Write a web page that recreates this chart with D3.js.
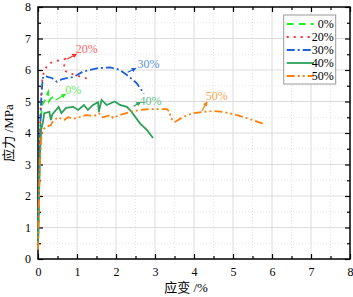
<!DOCTYPE html>
<html>
<head>
<meta charset="utf-8">
<script src="https://d3js.org/d3.v7.min.js"></script>
<style>
  body { margin: 0; background: #fff; }
  text { font-family: "Liberation Serif", "Times New Roman", "Noto Sans CJK SC", serif; }
</style>
</head>
<body>
<div id="chart"></div>
<script>
// strain (%) / stress (MPa)
var series = ["0%", "20%", "30%", "40%", "50%"];
var colors = ["#22ee22", "#ff2a2a", "#1f5fd8", "#2ca058", "#ff7f0e"];
var labelColors = ["#66ee66", "#ff6565", "#6090dc", "#64c088", "#ffa550"];
var dashes = ["7,5", "2,5", "8,3,2,3", null, "8,3,2,3,2,3"];

var s0 = [[0,0.3],[0.02,1.8],[0.04,3.2],[0.07,4.3],[0.1,4.9],[0.14,4.95],[0.18,5.05],[0.2,5.15],[0.26,5.3],[0.28,5.0],[0.33,5.1],[0.4,5.15]];
var s20 = [[0,0.3],[0.02,2],[0.04,3.6],[0.07,5.0],[0.1,5.6],[0.15,5.95],[0.22,6.1],[0.31,6.22],[0.45,6.28],[0.6,6.32],[0.7,6.35],[0.66,6.05],[0.72,5.95],[0.8,5.9],[0.95,5.85],[1.08,5.79],[1.2,5.75],[1.33,5.7]];
var s30 = [[0,0.3],[0.02,2],[0.05,3.8],[0.08,5.0],[0.12,5.74],[0.18,5.82],[0.26,5.77],[0.35,5.75],[0.48,5.63],[0.6,5.7],[0.74,5.74],[0.9,5.78],[1.0,5.84],[1.15,5.95],[1.33,6.0],[1.55,6.06],[1.85,6.08],[2.0,6.04],[2.1,6.0],[2.28,5.84],[2.4,5.72],[2.53,5.58],[2.62,5.42],[2.72,5.25]];
var s40 = [[0,0.3],[0.02,1.8],[0.05,3.3],[0.08,4.1],[0.12,4.3],[0.16,4.63],[0.22,4.65],[0.29,4.67],[0.33,4.41],[0.37,4.6],[0.53,4.83],[0.6,4.63],[0.72,4.8],[0.9,4.83],[1.03,4.73],[1.18,4.89],[1.28,4.73],[1.41,4.89],[1.54,4.98],[1.56,4.67],[1.63,5.05],[1.76,4.89],[1.97,5.0],[2.1,4.89],[2.28,4.83],[2.4,4.67],[2.5,4.5],[2.62,4.3],[2.79,4.1],[2.95,3.84]];
var s50 = [[0,0.3],[0.02,1.6],[0.05,3.0],[0.08,3.8],[0.12,4.1],[0.2,4.19],[0.33,4.25],[0.37,4.35],[0.51,4.5],[0.67,4.41],[0.77,4.5],[0.9,4.45],[1.05,4.5],[1.23,4.57],[1.44,4.54],[1.56,4.63],[1.66,4.5],[1.87,4.57],[1.92,4.48],[2.1,4.57],[2.36,4.67],[2.62,4.73],[2.87,4.76],[3.08,4.76],[3.3,4.76],[3.38,4.67],[3.4,4.48],[3.51,4.35],[3.72,4.51],[3.97,4.63],[4.23,4.67],[4.49,4.7],[4.74,4.67],[5.0,4.6],[5.26,4.51],[5.51,4.41],[5.77,4.29]];
var data = [s0, s20, s30, s40, s50];

// arrows: [from, to] in data units, and label position
var arrows = [[[0.45,5.05],[0.7,5.22]], [[0.75,6.35],[0.98,6.5]], [[2.3,5.93],[2.5,6.05]], [[2.45,4.85],[2.62,4.97]], [[4.2,4.7],[4.33,4.98]]];
var labelPos = [[0.7,5.25], [0.97,6.55], [2.55,6.05], [2.6,4.9], [4.3,5.05]];

var xTicks = [0,1,2,3,4,5,6,7,8];
var yTicks = [0,1,2,3,4,5,6,7,8];

var W = 353, H = 297;
var margin = {top: 7, right: 3, bottom: 38, left: 38};
var width = W - margin.left - margin.right;
var height = H - margin.top - margin.bottom;

var svg = d3.select("#chart").append("svg")
  .attr("width", W).attr("height", H);
var g = svg.append("g")
  .attr("transform", "translate(" + margin.left + "," + margin.top + ")");

var x = d3.scaleLinear().domain([0, 8]).range([0, width]);
var y = d3.scaleLinear().domain([0, 8]).range([height, 0]);

// grid
var minor = d3.range(0.5, 8, 1);
g.selectAll(".gx").data(xTicks.slice(1, -1)).enter().append("line")
  .attr("x1", d => x(d)).attr("x2", d => x(d)).attr("y1", 0).attr("y2", height)
  .attr("stroke", "#dcdcdc").attr("stroke-width", 1);
g.selectAll(".gy").data(yTicks.slice(1, -1)).enter().append("line")
  .attr("y1", d => y(d)).attr("y2", d => y(d)).attr("x1", 0).attr("x2", width)
  .attr("stroke", "#dcdcdc").attr("stroke-width", 1);
g.selectAll(".mx").data(minor).enter().append("line")
  .attr("x1", d => x(d)).attr("x2", d => x(d)).attr("y1", 0).attr("y2", height)
  .attr("stroke", "#e4e4e4").attr("stroke-width", 1).attr("stroke-dasharray", "1,2");
g.selectAll(".my").data(minor).enter().append("line")
  .attr("y1", d => y(d)).attr("y2", d => y(d)).attr("x1", 0).attr("x2", width)
  .attr("stroke", "#e4e4e4").attr("stroke-width", 1).attr("stroke-dasharray", "1,2");

// axes with inner ticks on all four sides
function styleAxis(sel) {
  sel.select(".domain").remove();
  sel.selectAll("line").attr("stroke", "#000").attr("stroke-width", 1.2);
  sel.selectAll("text").attr("font-size", 12).attr("fill", "#000");
}
g.append("g").attr("transform", "translate(0," + height + ")")
  .call(d3.axisBottom(x).tickValues(xTicks).tickSizeInner(-5).tickSizeOuter(0).tickPadding(8).tickFormat(d3.format("d")))
  .call(styleAxis);
g.append("g").attr("transform", "translate(0," + height + ")")
  .call(d3.axisBottom(x).tickValues(minor).tickSize(-3).tickFormat(""))
  .call(styleAxis);
g.append("g")
  .call(d3.axisLeft(y).tickValues(yTicks).tickSizeInner(-5).tickSizeOuter(0).tickPadding(7).tickFormat(d3.format("d")))
  .call(styleAxis);
g.append("g")
  .call(d3.axisLeft(y).tickValues(minor).tickSize(-3).tickFormat(""))
  .call(styleAxis);
g.append("g")
  .call(d3.axisTop(x).tickValues(xTicks).tickSize(-5).tickFormat(""))
  .call(styleAxis);
g.append("g")
  .call(d3.axisTop(x).tickValues(minor).tickSize(-3).tickFormat(""))
  .call(styleAxis);
g.append("g").attr("transform", "translate(" + width + ",0)")
  .call(d3.axisRight(y).tickValues(yTicks).tickSize(-5).tickFormat(""))
  .call(styleAxis);
g.append("g").attr("transform", "translate(" + width + ",0)")
  .call(d3.axisRight(y).tickValues(minor).tickSize(-3).tickFormat(""))
  .call(styleAxis);

g.append("rect").attr("width", width).attr("height", height)
  .attr("fill", "none").attr("stroke", "#000").attr("stroke-width", 1.5);

// curves
var line = d3.line().x(d => x(d[0])).y(d => y(d[1]));
data.forEach(function(s, i) {
  g.append("path").datum(s)
    .attr("d", line)
    .attr("fill", "none")
    .attr("stroke", colors[i])
    .attr("stroke-width", 1.8)
    .attr("stroke-dasharray", dashes[i]);
});

// arrows and labels
var defs = svg.append("defs");
colors.forEach(function(c, i) {
  defs.append("marker").attr("id", "ar" + i)
    .attr("viewBox", "0 0 10 10").attr("refX", 8).attr("refY", 5)
    .attr("markerWidth", 4).attr("markerHeight", 4).attr("orient", "auto")
    .append("path").attr("d", "M0,0L10,5L0,10z").attr("fill", c);
});
arrows.forEach(function(a, i) {
  g.append("line")
    .attr("x1", x(a[0][0])).attr("y1", y(a[0][1]))
    .attr("x2", x(a[1][0])).attr("y2", y(a[1][1]))
    .attr("stroke", colors[i]).attr("stroke-width", 1.2)
    .attr("marker-end", "url(#ar" + i + ")");
  g.append("text")
    .attr("x", x(labelPos[i][0])).attr("y", y(labelPos[i][1]))
    .attr("font-size", 12).attr("fill", labelColors[i])
    .text(series[i]);
});

// legend
var lg = g.append("g").attr("transform", "translate(" + (x(6.3)) + "," + 8 + ")");
lg.append("rect").attr("width", 52).attr("height", 69)
  .attr("fill", "#fff").attr("stroke", "#999").attr("stroke-width", 1);
series.forEach(function(name, i) {
  var yy = 9 + i * 13;
  lg.append("line").attr("x1", 3).attr("x2", 30).attr("y1", yy).attr("y2", yy)
    .attr("stroke", colors[i]).attr("stroke-width", 1.8)
    .attr("stroke-dasharray", dashes[i]);
  lg.append("text").attr("x", 50).attr("y", yy + 4).attr("text-anchor", "end")
    .attr("font-size", 12).attr("fill", "#000").text(name);
});

// axis titles
svg.append("text")
  .attr("x", 186).attr("y", H - 5)
  .attr("text-anchor", "middle").attr("font-size", 13)
  .text("应变 /%");
svg.append("text")
  .attr("transform", "translate(13," + (margin.top + height / 2) + ") rotate(-90)")
  .attr("text-anchor", "middle").attr("font-size", 13)
  .text("应力 /MPa");
</script>
</body>
</html>
